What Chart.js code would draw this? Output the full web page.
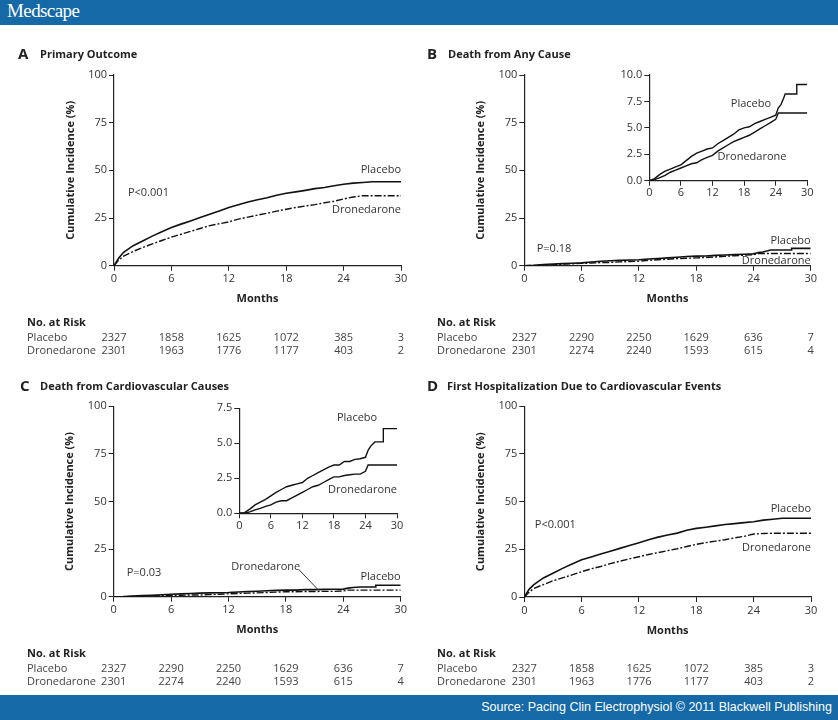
<!DOCTYPE html>
<html>
<head>
<meta charset="utf-8">
<script src="https://cdn.jsdelivr.net/npm/chart.js@4.4.0/dist/chart.umd.min.js"></script>
<style>
body { margin: 0; background: #fff; width: 838px; height: 720px; position: relative; overflow: hidden; }
.bar { position: absolute; left: 0; width: 838px; height: 25px; background: #1569a6; color: #fff; }
#top { top: 0; }
#bottom { top: 695px; }
#top span { position: absolute; left: 7px; top: 0px; font: 19px "Liberation Serif", serif; letter-spacing: -0.6px; }
#bottom span { position: absolute; right: 6px; top: 5px; font: 12.5px "Liberation Sans", Arial, sans-serif; }
.box { position: absolute; }
</style>
</head>
<body>
<div class="bar" id="top"><span>Medscape</span></div>

<div class="box" style="left:0;top:25px;width:419px;height:335px"><canvas id="chartA"></canvas></div>
<div class="box" style="left:419px;top:25px;width:419px;height:335px"><canvas id="chartB"></canvas></div>
<div class="box" style="left:0;top:360px;width:419px;height:335px"><canvas id="chartC"></canvas></div>
<div class="box" style="left:419px;top:360px;width:419px;height:335px"><canvas id="chartD"></canvas></div>
<div class="box" style="left:600px;top:65px;width:225px;height:140px"><canvas id="insetB"></canvas></div>
<div class="box" style="left:190px;top:398px;width:225px;height:140px"><canvas id="insetC"></canvas></div>

<div class="bar" id="bottom"><span>Source: Pacing Clin Electrophysiol &copy; 2011 Blackwell Publishing</span></div>

<script>
// months where the numbers at risk are given
const riskMonths = [0, 6, 12, 18, 24, 30];
const riskPlaceboAD = [2327, 1858, 1625, 1072, 385, 3];
const riskDroneAD = [2301, 1963, 1776, 1177, 403, 2];
const riskPlaceboBC = [2327, 2290, 2250, 1629, 636, 7];
const riskDroneBC = [2301, 2274, 2240, 1593, 615, 4];

// A - primary outcome
const monthsA = [0, 0.5, 1, 2, 3, 4, 5, 6, 7, 8, 9, 10, 11, 12, 13, 14, 15, 16, 17, 18, 19, 20, 21, 22, 23, 24, 25, 26, 27, 30];
const placeboA = [0, 4, 7, 10.5, 13, 15.5, 17.8, 20, 21.8, 23.5, 25.3, 27, 28.7, 30.5, 32, 33.4, 34.6, 35.6, 36.9, 38, 38.7, 39.5, 40.4, 41, 41.9, 42.7, 43.3, 43.6, 44, 44];
const droneA = [0, 3, 5, 7.5, 9.5, 11.4, 13.2, 15, 16.5, 18, 19.5, 21, 22, 23, 24.4, 25.5, 26.5, 27.5, 28.6, 29.6, 30.5, 31.3, 32, 33, 33.8, 35, 36, 36.7, 36.7, 36.7];

// B - death from any cause
const monthsB = [0, 1, 2, 3, 4, 5, 6, 7, 8, 9, 10, 11, 12, 13, 14, 15, 16, 17, 18, 19, 20, 21, 22, 23, 24, 24.5, 25, 25.5, 25.8, 28, 28, 30];
const placeboB = [0, 0.2, 0.6, 0.9, 1.1, 1.3, 1.5, 1.9, 2.3, 2.6, 2.8, 3.0, 3.1, 3.5, 3.8, 4.1, 4.4, 4.8, 5.0, 5.1, 5.4, 5.6, 5.8, 6.0, 6.2, 6.9, 7.2, 7.8, 8.2, 8.2, 9.1, 9.1];
const droneB = [0, 0.1, 0.3, 0.5, 0.8, 1.0, 1.2, 1.4, 1.6, 1.7, 2.0, 2.2, 2.4, 2.8, 3.1, 3.4, 3.7, 3.9, 4.1, 4.3, 4.6, 4.9, 5.2, 5.5, 5.8, 6.4, 6.4, 6.4, 6.4, 6.4, 6.4, 6.4];

// C - death from cardiovascular causes
const monthsC = [0, 1, 2, 3, 4, 5, 6, 7, 8, 9, 10, 11, 12, 13, 14, 15, 16, 17, 18, 19, 20, 21, 22, 23, 24, 24.5, 25, 25.8, 27.4, 27.4, 30];
const placeboC = [0, 0.05, 0.3, 0.6, 0.8, 1.0, 1.25, 1.5, 1.7, 1.9, 2.0, 2.1, 2.2, 2.5, 2.7, 2.9, 3.1, 3.3, 3.45, 3.45, 3.7, 3.7, 3.85, 3.9, 4.0, 4.5, 4.8, 5.1, 5.1, 6.05, 6.05];
const droneC = [0, 0, 0.1, 0.25, 0.35, 0.5, 0.6, 0.8, 0.9, 0.9, 1.1, 1.3, 1.5, 1.7, 1.9, 2.0, 2.2, 2.4, 2.6, 2.6, 2.7, 2.75, 2.8, 2.8, 3.0, 3.45, 3.45, 3.45, 3.45, 3.45, 3.45];

// D - first cardiovascular hospitalization
const monthsD = [0, 0.5, 1, 2, 3, 4, 5, 6, 7, 8, 9, 10, 11, 12, 13, 14, 15, 16, 17, 18, 19, 20, 21, 22, 23, 24, 25, 26, 27, 30];
const placeboD = [0, 4, 6.5, 10, 12.5, 15, 17.3, 19.5, 21, 22.5, 24, 25.5, 27, 28.5, 30, 31.4, 32.5, 33.5, 35, 36, 36.6, 37.3, 38, 38.5, 39, 39.5, 40.3, 40.8, 41.3, 41.3];
const droneD = [0, 2.5, 4.5, 6.5, 8.5, 10, 11.6, 13.3, 14.8, 16, 17.5, 18.8, 20, 21.1, 22.3, 23.3, 24.3, 25.3, 26.5, 27.6, 28.5, 29.3, 30, 31, 31.8, 33, 33.3, 33.4, 33.4, 33.4];

const FONT = '"Open Sans", sans-serif';
Chart.defaults.font.family = FONT;
Chart.defaults.font.size = 11;
Chart.defaults.color = '#333';

function curve(t, v) {
    return t.map((m, i) => ({ x: m, y: v[i] }));
}

// titles, curve labels and the numbers-at-risk table
const panelText = {
    id: 'panelText',
    afterDraw(chart, args, o) {
        const ctx = chart.ctx;
        const xs = chart.scales.x, ys = chart.scales.y;
        ctx.save();
        ctx.fillStyle = '#222';
        ctx.textBaseline = 'middle';
        if (o.letter) {
            ctx.textAlign = 'left';
            ctx.font = 'bold 15px ' + FONT;
            ctx.fillText(o.letter, o.titleAt[0], o.titleAt[1]);
            ctx.font = 'bold 11px ' + FONT;
            ctx.fillText(o.title, o.titleAt[2], o.titleAt[1]);
        }
        ctx.fillStyle = '#333';
        ctx.font = '11px ' + FONT;
        (o.notes || []).forEach(n => {
            ctx.textAlign = n.align || 'left';
            ctx.fillText(n.text, xs.getPixelForValue(n.x), ys.getPixelForValue(n.y));
        });
        if (o.leader) {
            ctx.strokeStyle = '#333';
            ctx.lineWidth = 1;
            ctx.beginPath();
            ctx.moveTo(xs.getPixelForValue(o.leader[0]), ys.getPixelForValue(o.leader[1]));
            ctx.lineTo(xs.getPixelForValue(o.leader[2]), ys.getPixelForValue(o.leader[3]));
            ctx.stroke();
        }
        if (o.risk) {
            const lx = o.tableAt[0], y0 = o.tableAt[1];
            ctx.textAlign = 'left';
            ctx.fillStyle = '#222';
            ctx.font = 'bold 11px ' + FONT;
            ctx.fillText('No. at Risk', lx, y0);
            ctx.font = '11px ' + FONT;
            ctx.fillStyle = '#444';
            o.risk.forEach((row, r) => {
                const y = y0 + 15 + r * 13;
                ctx.textAlign = 'left';
                ctx.fillText(row.label, lx, y);
                ctx.textAlign = 'center';
                row.values.forEach((v, i) => ctx.fillText(String(v), xs.getPixelForValue(riskMonths[i]), y));
            });
        }
        ctx.restore();
    }
};

function axis(extra) {
    return Object.assign({
        type: 'linear',
        grid: { drawOnChartArea: false, drawTicks: true, tickLength: 5, color: '#222', lineWidth: 1 },
        border: { display: true, color: '#222', width: 1.2 },
        ticks: { color: '#333', padding: 2, autoSkip: false, maxRotation: 0, font: { size: 11 } }
    }, extra);
}

function mainPanel(id, cfg) {
    return new Chart(document.getElementById(id), {
        type: 'line',
        data: {
            datasets: [
                { label: 'Placebo', data: curve(cfg.t, cfg.placebo), borderColor: '#111', borderWidth: 1.6,
                  pointRadius: 0, fill: false },
                { label: 'Dronedarone', data: curve(cfg.t, cfg.drone), borderColor: '#111', borderWidth: 1.4,
                  borderDash: [7, 2, 2, 2], pointRadius: 0, fill: false }
            ]
        },
        options: {
            responsive: true, maintainAspectRatio: false, animation: false,
            layout: { padding: cfg.pad },
            scales: {
                x: axis({
                    min: 0, max: 30,
                    ticks: { stepSize: 6, color: '#333', padding: 2, autoSkip: false, maxRotation: 0 },
                    title: { display: true, text: 'Months', color: '#222', font: { size: 11, weight: 'bold' }, padding: { top: 4, bottom: 4 } },
                    afterFit: s => { s.height = 44; }
                }),
                y: axis({
                    min: 0, max: 100,
                    ticks: { stepSize: 25, color: '#333', padding: 2 },
                    title: { display: true, text: 'Cumulative Incidence (%)', color: '#222', font: { size: 11, weight: 'bold' }, padding: { top: 4, bottom: 4 } },
                    afterFit: s => { s.width = 54; }
                })
            },
            plugins: { legend: { display: false }, tooltip: { enabled: false }, panelText: cfg.text }
        },
        plugins: [panelText]
    });
}

function insetPanel(id, cfg) {
    return new Chart(document.getElementById(id), {
        type: 'line',
        data: {
            datasets: [
                { label: 'Placebo', data: curve(cfg.t, cfg.placebo), borderColor: '#111', borderWidth: 1.4,
                  pointRadius: 0, fill: false },
                { label: 'Dronedarone', data: curve(cfg.t, cfg.drone), borderColor: '#111', borderWidth: 1.4,
                  pointRadius: 0, fill: false }
            ]
        },
        options: {
            responsive: true, maintainAspectRatio: false, animation: false,
            layout: { padding: cfg.pad },
            scales: {
                x: axis({
                    min: 0, max: 30,
                    ticks: { stepSize: 6, color: '#333', padding: 1, autoSkip: false, maxRotation: 0 },
                    afterFit: s => { s.height = 22; }
                }),
                y: axis({
                    min: 0, max: cfg.yMax,
                    ticks: { stepSize: 2.5, color: '#333', padding: 2, callback: v => v.toFixed(1) },
                    afterFit: s => { s.width = 40; }
                })
            },
            plugins: { legend: { display: false }, tooltip: { enabled: false }, panelText: cfg.text }
        },
        plugins: [panelText]
    });
}

mainPanel('chartA', {
    t: monthsA, placebo: placeboA, drone: droneA,
    pad: { left: 60, right: 18, top: 50, bottom: 50.3 },
    text: {
        letter: 'A', title: 'Primary Outcome', titleAt: [18, 30, 40],
        notes: [
            { text: 'Placebo', x: 30, y: 50.2, align: 'right' },
            { text: 'Dronedarone', x: 30, y: 29.2, align: 'right' },
            { text: 'P<0.001', x: 1.46, y: 38.1 }
        ],
        tableAt: [27, 298],
        risk: [{ label: 'Placebo', values: riskPlaceboAD }, { label: 'Dronedarone', values: riskDroneAD }]
    }
});

mainPanel('chartB', {
    t: monthsB, placebo: placeboB, drone: droneB,
    pad: { left: 51.3, right: 27.3, top: 50, bottom: 50.3 },
    text: {
        letter: 'B', title: 'Death from Any Cause', titleAt: [8, 30, 29],
        notes: [
            { text: 'Placebo', x: 30, y: 13, align: 'right' },
            { text: 'Dronedarone', x: 30, y: 2.6, align: 'right' },
            { text: 'P=0.18', x: 1.3, y: 8.8 }
        ],
        tableAt: [18, 298],
        risk: [{ label: 'Placebo', values: riskPlaceboBC }, { label: 'Dronedarone', values: riskDroneBC }]
    }
});

mainPanel('chartC', {
    t: monthsC, placebo: placeboC, drone: droneC,
    pad: { left: 59.7, right: 18.3, top: 46.3, bottom: 54.3 },
    text: {
        letter: 'C', title: 'Death from Cardiovascular Causes', titleAt: [20, 27, 40],
        notes: [
            { text: 'Placebo', x: 30, y: 10.3, align: 'right' },
            { text: 'Dronedarone', x: 15.9, y: 15.6, align: 'center' },
            { text: 'P=0.03', x: 1.36, y: 12.4 }
        ],
        leader: [19.4, 14.0, 21.4, 3.5],
        tableAt: [27, 294],
        risk: [{ label: 'Placebo', values: riskPlaceboBC }, { label: 'Dronedarone', values: riskDroneBC }]
    }
});

mainPanel('chartD', {
    t: monthsD, placebo: placeboD, drone: droneD,
    pad: { left: 51.3, right: 27, top: 46.3, bottom: 54 },
    text: {
        letter: 'D', title: 'First Hospitalization Due to Cardiovascular Events', titleAt: [8, 27, 28],
        notes: [
            { text: 'Placebo', x: 30, y: 46.1, align: 'right' },
            { text: 'Dronedarone', x: 30, y: 25.7, align: 'right' },
            { text: 'P<0.001', x: 1.1, y: 37.8 }
        ],
        tableAt: [18, 294],
        risk: [{ label: 'Placebo', values: riskPlaceboAD }, { label: 'Dronedarone', values: riskDroneAD }]
    }
});

insetPanel('insetB', {
    t: monthsB, placebo: placeboB, drone: droneB, yMax: 10,
    pad: { left: 9.3, right: 17.7, top: 10, bottom: 2.3 },
    text: {
        notes: [
            { text: 'Placebo', x: 19.3, y: 7.26, align: 'center' },
            { text: 'Dronedarone', x: 19.5, y: 2.24, align: 'center' }
        ]
    }
});

insetPanel('insetC', {
    t: monthsC, placebo: placeboC, drone: droneC, yMax: 7.5,
    pad: { left: 9.3, right: 18, top: 10.3, bottom: 2.7 },
    text: {
        notes: [
            { text: 'Placebo', x: 22.4, y: 6.8, align: 'center' },
            { text: 'Dronedarone', x: 30, y: 1.66, align: 'right' }
        ]
    }
});
</script>
</body>
</html>
